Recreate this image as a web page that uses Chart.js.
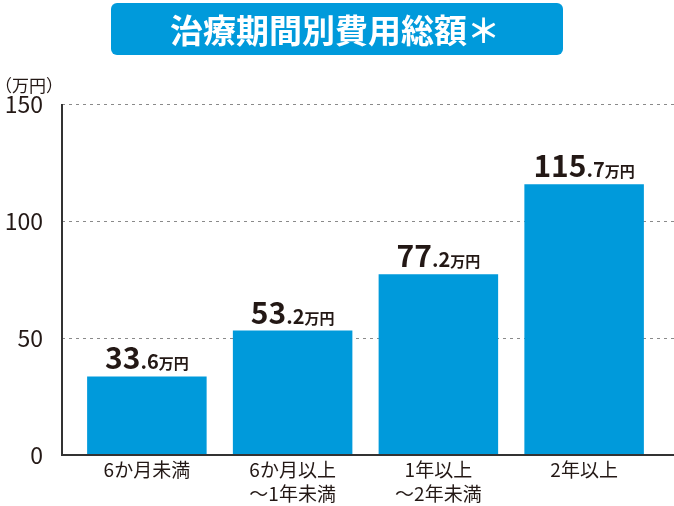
<!DOCTYPE html>
<html>
<head>
<meta charset="utf-8">
<script src="https://cdn.jsdelivr.net/npm/chart.js@4/dist/chart.umd.min.js"></script>
<style>
  html, body { margin: 0; padding: 0; background: #fff; }
  #wrap { width: 674px; height: 506px; position: relative; }
</style>
</head>
<body>
<div id="wrap"><canvas id="chart" width="674" height="506"></canvas></div>
<script>
const title = '治療期間別費用総額＊';
const unitLabel = '（万円）';
const categories = [['6か月未満'], ['6か月以上', '～1年未満'], ['1年以上', '～2年未満'], ['2年以上']];
const totals = [33.6, 53.2, 77.2, 115.7];
const yTicks = [0, 50, 100, 150];

const FONT = '"Noto Sans CJK JP", "Noto Sans", sans-serif';
const BLUE = '#009ADB';
const INK = '#231815';

// title box, axis lines, dotted grid and value labels
const decorations = {
  id: 'decorations',
  beforeDatasetsDraw(chart) {
    const ctx = chart.ctx;
    const y = chart.scales.y;
    ctx.save();
    ctx.strokeStyle = '#8a8a8a';
    ctx.lineWidth = 1;
    ctx.setLineDash([3, 4]);
    yTicks.filter(v => v > 0).forEach(v => {
      const py = Math.round(y.getPixelForValue(v)) + 0.5;
      ctx.beginPath();
      ctx.moveTo(62, py);
      ctx.lineTo(674, py);
      ctx.stroke();
    });
    ctx.restore();
  },
  afterDatasetsDraw(chart) {
    const ctx = chart.ctx;
    const y = chart.scales.y;
    const area = chart.chartArea;
    ctx.save();
    // axes
    ctx.strokeStyle = '#333';
    ctx.lineWidth = 2;
    ctx.beginPath();
    ctx.moveTo(62, y.getPixelForValue(150));
    ctx.lineTo(62, area.bottom);
    ctx.lineTo(674, area.bottom);
    ctx.stroke();

    // title
    ctx.fillStyle = BLUE;
    ctx.beginPath();
    ctx.roundRect(111, 3, 452, 52, 6);
    ctx.fill();
    ctx.fillStyle = '#fff';
    ctx.font = 'bold 33px ' + FONT;
    ctx.textAlign = 'center';
    ctx.textBaseline = 'middle';
    ctx.fillText(title, 335, 30);

    // unit
    ctx.fillStyle = INK;
    ctx.font = '17px ' + FONT;
    ctx.textAlign = 'left';
    ctx.fillText(unitLabel, -5, 86);

    // value labels
    const meta = chart.getDatasetMeta(0);
    ctx.textBaseline = 'alphabetic';
    meta.data.forEach((bar, i) => {
      const parts = totals[i].toFixed(1).split('.');
      const pieces = [
        { t: parts[0], f: 'bold 30px ' + FONT },
        { t: '.' + parts[1], f: 'bold 20px ' + FONT },
        { t: '万円', f: 'bold 15px ' + FONT }
      ];
      let w = 0;
      pieces.forEach(p => { ctx.font = p.f; p.w = ctx.measureText(p.t).width; w += p.w; });
      let x = bar.x - w / 2;
      const by = bar.y - 7;
      pieces.forEach(p => {
        ctx.font = p.f;
        ctx.fillText(p.t, x, by);
        x += p.w;
      });
    });
    ctx.restore();
  }
};

new Chart(document.getElementById('chart'), {
  type: 'bar',
  data: {
    labels: categories,
    datasets: [{
      data: totals,
      backgroundColor: BLUE,
      borderWidth: 0,
      categoryPercentage: 0.82,
      barPercentage: 1
    }]
  },
  options: {
    responsive: false,
    animation: false,
    layout: { padding: { top: 104, right: 17, bottom: 0, left: 0 } },
    plugins: { legend: { display: false }, tooltip: { enabled: false } },
    scales: {
      x: {
        grid: { display: false },
        border: { display: false },
        ticks: { color: INK, font: { family: FONT, size: 19, lineHeight: 1.3 }, padding: -6, maxRotation: 0 },
        afterFit(scale) { scale.height = 51; }
      },
      y: {
        min: 0,
        max: 150,
        afterBuildTicks(scale) { scale.ticks = yTicks.map(v => ({ value: v })); },
        grid: { display: false },
        border: { display: false },
        ticks: { color: INK, font: { family: FONT, size: 23 }, padding: 23 },
        afterFit(scale) { scale.width = 74; }
      }
    }
  },
  plugins: [decorations]
});
</script>
</body>
</html>
